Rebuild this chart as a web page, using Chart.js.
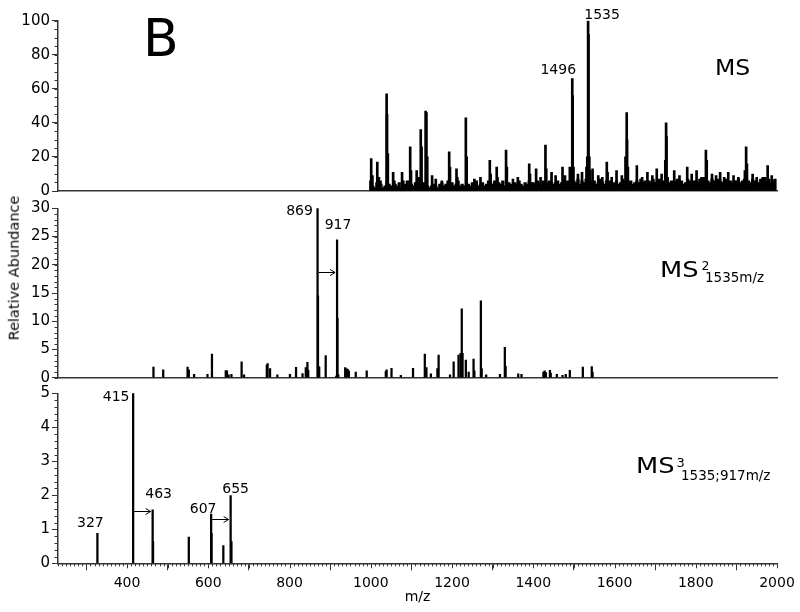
<!DOCTYPE html>
<html>
<head>
<meta charset="utf-8">
<title>MS / MS2 / MS3 spectra</title>
<script src="https://cdn.jsdelivr.net/npm/chart.js@4.4.1/dist/chart.umd.min.js"></script>
<style>
  html, body { margin: 0; padding: 0; background: #fff; }
  body { position: relative; width: 800px; height: 612px; overflow: hidden; font-family: "DejaVu Sans", sans-serif; color: #000; }
  .panel { position: absolute; left: 0; width: 800px; }
  .lbl { position: absolute; line-height: 1; white-space: nowrap; }
  .wide { transform-origin: 0 0; }
</style>
</head>
<body>
<div class="panel" style="top:0;height:202px"><canvas id="msChart"></canvas></div>
<div class="panel" style="top:190px;height:200px"><canvas id="ms2Chart"></canvas></div>
<div class="panel" style="top:380px;height:232px"><canvas id="ms3Chart"></canvas></div>

<div class="lbl" style="left:143px;top:12px;font-size:52px">B</div>
<div class="lbl wide" style="left:715px;top:58px;font-size:21px;transform:scaleX(1.12)">MS</div>
<div class="lbl wide" style="left:660px;top:258.5px;font-size:22px;transform:scaleX(1.17)">MS</div>
<div class="lbl" style="left:701.5px;top:259.5px;font-size:12.5px">2</div>
<div class="lbl" style="left:705px;top:271px;font-size:13.5px">1535m/z</div>
<div class="lbl wide" style="left:636px;top:455px;font-size:22px;transform:scaleX(1.17)">MS</div>
<div class="lbl" style="left:676.5px;top:455.5px;font-size:13px">3</div>
<div class="lbl" style="left:681px;top:468.5px;font-size:13.5px">1535;917m/z</div>
<div class="lbl" style="left:14px;top:268px;font-size:14.5px;transform:translate(-50%,-50%) rotate(-90deg)">Relative Abundance</div>

<script>
const ink = '#000';
const axisColor = '#333';
const fontFamily = 'DejaVu Sans';

// shared m/z axis
const mzMin = 230, mzMax = 2000;
const xTicks = [400, 600, 800, 1000, 1200, 1400, 1600, 1800, 2000];

// --- MS (full scan) ---
const msYTicks = [0, 20, 40, 60, 80, 100];
// dense baseline, one value every 5 m/z from 1000
const msNoiseStart = 1000, msNoiseStep = 5;
const msNoise = [
  6,3,2,5,3,4,2,3,6,4, 3,2,4,3,5,2,3,4,6,3,
  4,3,5,6,4,3,5,4,3,2, 3,4,3,2,4,5,3,4,6,4,
  5,3,4,6,3,4,3,2,4,3, 5,4,6,3,4,5,3,4,6,5,
  4,6,3,5,4,6,3,4,5,4, 3,5,4,6,4,3,5,4,6,5,
  5,4,6,5,3,6,4,5,6,5, 4,5,6,4,5,7,5,6,5,8,
  6,5,7,4,6,5,7,9,6,5, 6,4,5,7,5,4,6,5,6,4,
  5,6,4,5,7,6,8,5,6,4, 5,6,5,7,5,6,4,6,5,7,
  5,6,7,5,6,4,8,5,6,5, 6,7,5,6,4,5,7,6,5,6,
  6,5,7,6,8,5,6,5,7,6, 5,7,6,5,6,7,5,6,5,6,
  6,7,5,6,7,8,6,5,7,6, 6,5,7,6,8,6,7,5,6,7
];
const msMz = [1001,1004,1016,1020,1024,1039,1040,1042,1055,1058,1077,1080,1097,1099,1113,1118,1123,1125,1135,1137,1139,1151,1160,1175,1193,1195,1211,1213,1234,1236,1255,1270,1293,1295,1310,1312,1333,1335,1350,1362,1390,1392,1407,1418,1430,1432,1445,1455,1472,1478,1490,1493,1496,1497,1499,1510,1520,1531,1533,1535,1536,1538,1540,1546,1560,1570,1581,1583,1593,1605,1618,1627,1630,1631,1633,1655,1668,1681,1693,1704,1716,1725,1727,1728,1747,1760,1779,1790,1802,1814,1825,1827,1840,1850,1860,1870,1880,1893,1905,1921,1924,1926,1940,1950,1965,1977,1987];
const msInt = [19,9,17,8,6,57,45,22,11,6,11,6,26,12,12,8,36,26,47,46,20,9,7,6,23,14,13,8,43,20,7,8,18,10,14,8,24,14,7,8,16,10,13,8,27,13,11,9,14,9,14,12,66,56,14,10,11,14,20,100,92,20,12,13,9,8,17,11,8,12,9,20,46,30,14,15,8,11,9,13,10,18,40,32,12,9,14,10,12,8,24,18,10,9,11,8,11,9,8,12,26,16,10,8,8,15,9];
const msLabelMz = [1496, 1535];

// --- MS2 of 1535 ---
const ms2YTicks = [0, 5, 10, 15, 20, 25, 30];
const ms2Mz = [465,489,549,552,565,598,609,643,646,650,657,682,688,744,746,752,770,801,816,832,840,844,846,869,870,871,873,889,915,917,918,920,937,940,943,946,963,990,1037,1039,1051,1074,1104,1133,1137,1148,1164,1167,1195,1204,1216,1221,1224,1226,1234,1241,1253,1255,1271,1273,1284,1318,1330,1332,1363,1371,1425,1428,1431,1441,1443,1458,1472,1480,1490,1522,1544,1546];
const ms2Int = [1.9,1.4,1.9,1.4,0.6,0.6,4.2,1.25,1.2,0.5,0.6,2.8,0.5,2.25,2.5,1.6,0.5,0.6,1.85,0.75,1.8,2.7,1.3,30,14.5,2.0,1.9,3.9,0.3,24.4,10.5,0.5,1.8,1.6,1.5,1.2,1.0,1.2,1.15,1.4,1.65,0.4,1.65,4.2,1.8,0.7,1.6,4.0,0.5,2.8,4.0,4.3,12.2,4.3,3.1,1.0,3.3,1.2,13.6,1.6,0.5,0.6,5.4,2.0,0.7,0.6,1.0,1.2,0.9,1.3,0.8,0.6,0.4,0.6,1.3,1.9,1.95,1.0];
const ms2LabelMz = [869, 917];
const ms2ArrowFrom = [869], ms2ArrowTo = [917], ms2ArrowAt = [18.8];

// --- MS3 of 1535;917 ---
const ms3YTicks = [0, 1, 2, 3, 4, 5];
const ms3Mz = [327, 415, 463, 464, 552, 607, 608, 637, 655, 657];
const ms3Int = [0.88, 5.0, 1.57, 0.64, 0.77, 1.45, 0.88, 0.52, 1.99, 0.64];
const ms3LabelMz = [327, 415, 463, 607, 655];
const ms3ArrowFrom = [415, 607], ms3ArrowTo = [463, 655], ms3ArrowAt = [1.54, 1.29];

function points(mz, vals) {
  return mz.map((m, i) => ({ x: m, y: vals[i] }));
}

function labelItems(list, mz, vals, offsets) {
  return list.map((m, i) => ({
    mz: m, value: vals[mz.indexOf(m)], text: String(m),
    dx: offsets[i][0], dy: offsets[i][1]
  }));
}

function arrowItems(from, to, at) {
  return from.map((f, i) => ({ from: f, to: to[i], y: at[i] }));
}

// small ticks between the labelled ones
const minorTicks = {
  id: 'minorTicks',
  afterDraw(chart, args, opts) {
    const { ctx, chartArea } = chart;
    const xs = chart.scales.x, ys = chart.scales.y;
    ctx.save();
    ctx.strokeStyle = axisColor;
    ctx.lineWidth = 1;
    ctx.beginPath();
    if (opts.yStep) {
      const n = Math.round((ys.max - ys.min) / opts.yStep);
      for (let i = 0; i <= n; i++) {
        const p = Math.round(ys.getPixelForValue(ys.min + i * opts.yStep)) + 0.5;
        ctx.moveTo(chartArea.left - opts.yLen, p);
        ctx.lineTo(chartArea.left, p);
      }
    }
    if (opts.xStep) {
      const first = Math.ceil(xs.min / opts.xStep) * opts.xStep;
      const n = Math.floor((xs.max - first) / opts.xStep);
      for (let i = 0; i <= n; i++) {
        const v = first + i * opts.xStep;
        const p = Math.round(xs.getPixelForValue(v)) + 0.5;
        const len = v % opts.xMidStep === 0 ? opts.xMidLen : opts.xLen;
        ctx.moveTo(p, chartArea.bottom);
        ctx.lineTo(p, chartArea.bottom + len);
      }
    }
    ctx.stroke();
    ctx.restore();
  }
};

// peak m/z labels and the neutral-loss arrows
const peakLabels = {
  id: 'peakLabels',
  afterDatasetsDraw(chart, args, opts) {
    const { ctx } = chart;
    const xs = chart.scales.x, ys = chart.scales.y;
    ctx.save();
    ctx.fillStyle = ink;
    ctx.strokeStyle = ink;
    ctx.lineWidth = 1;
    ctx.font = opts.size + 'px "' + fontFamily + '"';
    ctx.textAlign = 'center';
    ctx.textBaseline = 'alphabetic';
    (opts.items || []).forEach(it => {
      const x = xs.getPixelForValue(it.mz) + it.dx;
      const y = ys.getPixelForValue(it.value) + it.dy + opts.size * 0.365;
      ctx.fillText(it.text, x, y);
    });
    (opts.arrows || []).forEach(a => {
      const x1 = xs.getPixelForValue(a.from) + 1;
      const x2 = xs.getPixelForValue(a.to) - opts.arrowGap;
      const y = Math.round(ys.getPixelForValue(a.y)) + 0.5;
      ctx.beginPath();
      ctx.moveTo(x1, y);
      ctx.lineTo(x2, y);
      ctx.moveTo(x2 - 5, y - 3);
      ctx.lineTo(x2, y);
      ctx.lineTo(x2 - 5, y + 3);
      ctx.stroke();
    });
    ctx.restore();
  }
};

function makePanel(id, cfg) {
  return new Chart(document.getElementById(id), {
    type: 'bar',
    data: { datasets: cfg.datasets },
    options: {
      responsive: true,
      maintainAspectRatio: false,
      animation: false,
      layout: { padding: cfg.padding },
      datasets: { bar: { grouped: false, borderWidth: 0 } },
      plugins: {
        colors: { enabled: false },
        legend: { display: false },
        tooltip: { enabled: false },
        minorTicks: cfg.minor,
        peakLabels: { size: 14, arrowGap: 2, items: cfg.labels, arrows: cfg.arrows || [] }
      },
      scales: {
        x: {
          type: 'linear',
          min: mzMin,
          max: mzMax,
          offset: false,
          grid: { display: cfg.showX, drawOnChartArea: false, color: axisColor, tickLength: 7 },
          border: { display: true, color: axisColor, width: 1.5 },
          ticks: {
            display: cfg.showX, color: '#000', padding: 5, maxRotation: 0, autoSkip: false,
            font: { family: fontFamily, size: 14 },
            callback: v => String(v)
          },
          title: {
            display: cfg.showX, text: 'm/z', color: '#000',
            font: { family: fontFamily, size: 14 }, padding: { top: 0, bottom: 2 }
          },
          afterBuildTicks: s => { s.ticks = xTicks.map(v => ({ value: v })); },
          afterFit: s => { s.height = cfg.xHeight; }
        },
        y: {
          min: 0,
          max: cfg.yTicks[cfg.yTicks.length - 1],
          grid: { drawOnChartArea: false, color: axisColor, tickLength: 6 },
          border: { color: axisColor, width: 1.5 },
          ticks: { color: '#000', padding: 2, font: { family: fontFamily, size: 15 }, callback: v => String(v) },
          afterBuildTicks: s => { s.ticks = cfg.yTicks.map(v => ({ value: v })); },
          afterFit: s => { s.width = 58; }
        }
      }
    },
    plugins: [minorTicks, peakLabels]
  });
}

makePanel('msChart', {
  datasets: [
    { data: msNoise.map((v, i) => ({ x: msNoiseStart + i * msNoiseStep, y: v })), barThickness: 2.6, backgroundColor: ink },
    { data: points(msMz, msInt), barThickness: 2, backgroundColor: ink }
  ],
  yTicks: msYTicks,
  padding: { top: 20.7, bottom: 10.5, left: 0, right: 23 },
  showX: false,
  xHeight: 0,
  minor: { yStep: 5, yLen: 3.5 },
  labels: labelItems(msLabelMz, msMz, msInt, [[-14, -10], [14, -7]])
});

makePanel('ms2Chart', {
  datasets: [{ data: points(ms2Mz, ms2Int), barThickness: 1.6, backgroundColor: ink }],
  yTicks: ms2YTicks,
  padding: { top: 18.3, bottom: 12.3, left: 0, right: 23 },
  showX: false,
  xHeight: 0,
  minor: { yStep: 1, yLen: 3.5 },
  labels: labelItems(ms2LabelMz, ms2Mz, ms2Int, [[-18, 2], [1, -16]]),
  arrows: arrowItems(ms2ArrowFrom, ms2ArrowTo, ms2ArrowAt)
});

makePanel('ms3Chart', {
  datasets: [{ data: points(ms3Mz, ms3Int), barThickness: 1.6, backgroundColor: ink }],
  yTicks: ms3YTicks,
  padding: { top: 13.3, bottom: 4, left: 0, right: 23 },
  showX: true,
  xHeight: 44.7,
  minor: { yStep: 0.2, yLen: 3.5, xStep: 10, xLen: 3, xMidStep: 100, xMidLen: 5 },
  labels: labelItems(ms3LabelMz, ms3Mz, ms3Int, [[-7, -11], [-17, 3], [6, -17], [-8, -6], [5, -8]]),
  arrows: arrowItems(ms3ArrowFrom, ms3ArrowTo, ms3ArrowAt)
});
</script>
</body>
</html>
